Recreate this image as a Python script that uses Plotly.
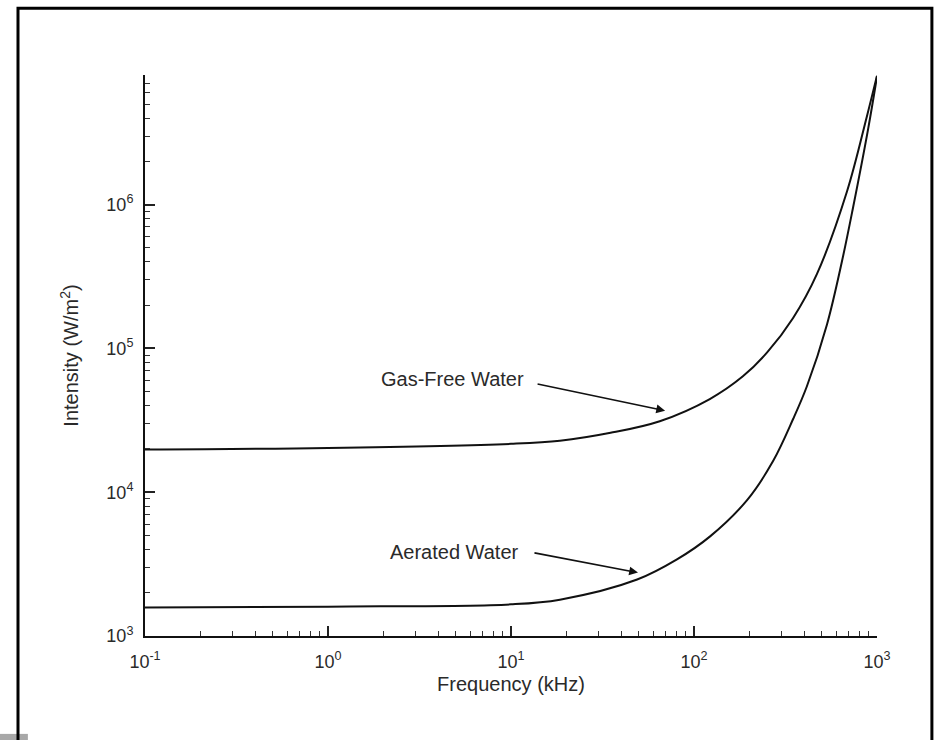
import plotly.graph_objects as go

# Cavitation threshold intensity versus frequency
freq_gas_free = [0.1, 1, 10, 18.5, 35, 65, 122, 185, 251, 348, 470, 686, 881, 1000]
intensity_gas_free = [1.98e4, 2.03e4, 2.17e4, 2.28e4, 2.59e4, 3.12e4, 4.45e4, 6.40e4,
                      9.38e4, 1.63e5, 3.30e5, 1.24e6, 4.13e6, 7.9e6]

freq_aerated = [0.1, 1, 10, 18.5, 48.9, 80.7, 122, 195, 270, 348, 414, 533, 644, 740, 893, 1000]
intensity_aerated = [1.58e3, 1.60e3, 1.66e3, 1.79e3, 2.47e3, 3.41e3, 4.91e3, 8.81e3,
                     1.64e4, 3.23e4, 5.46e4, 1.47e5, 4.06e5, 9.57e5, 3.33e6, 7.8e6]

x_tick_vals = [0.1, 1, 10, 100, 1000]
x_tick_text = ["10<sup>-1</sup>", "10<sup>0</sup>", "10<sup>1</sup>", "10<sup>2</sup>", "10<sup>3</sup>"]
y_tick_vals = [1e3, 1e4, 1e5, 1e6]
y_tick_text = ["10<sup>3</sup>", "10<sup>4</sup>", "10<sup>5</sup>", "10<sup>6</sup>"]

# minor ticks at 2..9 of every decade
x_minor = [k * 10.0 ** d for d in range(-1, 3) for k in range(2, 10)]
y_minor = [k * 10.0 ** d for d in range(3, 7) for k in range(2, 10)]

FONT = "Liberation Sans, Arial, sans-serif"
TXT = "#2a2a2a"

fig = go.Figure()
for fx, fy, name in [(freq_gas_free, intensity_gas_free, "Gas-Free Water"),
                     (freq_aerated, intensity_aerated, "Aerated Water")]:
    fig.add_trace(go.Scatter(
        x=fx, y=fy, mode="lines", name=name,
        line=dict(color="#111111", width=2, shape="spline", smoothing=1.0),
        showlegend=False, hoverinfo="skip",
    ))

axis_common = dict(
    type="log", showgrid=False, zeroline=False,
    showline=True, linecolor="#111111", linewidth=2,
    ticks="inside", ticklen=10, tickwidth=1.5, tickcolor="#222222",
    tickmode="array", mirror=False,
    tickfont=dict(family=FONT, size=18, color=TXT),
)

fig.update_xaxes(
    **axis_common,
    range=[-1, 3],
    tickvals=x_tick_vals, ticktext=x_tick_text,
    ticklabelstandoff=8,
    minor=dict(ticks="inside", ticklen=5, tickwidth=1.2, tickcolor="#333333",
               tickmode="array", tickvals=x_minor),
    title=dict(text="Frequency (kHz)", font=dict(family=FONT, size=20, color=TXT), standoff=6),
)
fig.update_yaxes(
    **axis_common,
    range=[3, 6.902],
    tickvals=y_tick_vals, ticktext=y_tick_text,
    ticklabelstandoff=6,
    minor=dict(ticks="inside", ticklen=5, tickwidth=1.2, tickcolor="#333333",
               tickmode="array", tickvals=y_minor),
    title=dict(text="Intensity (W/m<sup>2</sup>)", font=dict(family=FONT, size=20, color=TXT), standoff=22),
)

ann_font = dict(family=FONT, size=20, color=TXT)
# labels
fig.add_annotation(x=0.683, y=4.79, xref="x", yref="y", text="Gas-Free Water",
                   showarrow=False, font=ann_font)
fig.add_annotation(x=0.689, y=3.587, xref="x", yref="y", text="Aerated Water",
                   showarrow=False, font=ann_font)
# pointer arrows
for (hx, hy, tx, ty) in [(1.842, 4.567, 1.137, 4.755), (1.694, 3.441, 1.120, 3.580)]:
    fig.add_annotation(x=hx, y=hy, ax=tx, ay=ty, xref="x", yref="y", axref="x", ayref="y",
                       text="", showarrow=True, arrowhead=2, arrowsize=1.1,
                       arrowwidth=1.6, arrowcolor="#111111", standoff=0, startstandoff=0)

# outer frame
fig.add_shape(type="rect", xref="paper", yref="paper",
              x0=-0.1735, x1=1.075, y0=-0.2, y1=1.119,
              line=dict(color="#000000", width=3), fillcolor="rgba(0,0,0,0)", layer="above")
# small grey strip at the lower left corner
fig.add_shape(type="rect", xref="paper", yref="paper",
              x0=-0.2, x1=-0.16, y0=-0.19, y1=-0.1745,
              line=dict(width=0), fillcolor="#a8a8a8", layer="below")

fig.update_layout(
    width=936, height=740,
    margin=dict(l=145, r=59, t=75, b=103.5),
    paper_bgcolor="white", plot_bgcolor="white",
    font=dict(family=FONT, color=TXT),
)

fig.write_html("out.html")
